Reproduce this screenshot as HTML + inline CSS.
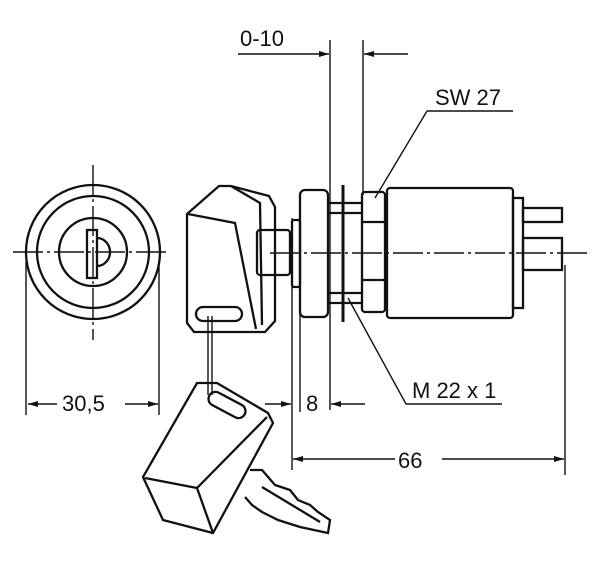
<!DOCTYPE html>
<html><head><meta charset="utf-8"><style>
html,body{margin:0;padding:0;background:#fff}
svg{display:block}
text{font-family:"Liberation Sans",sans-serif;font-size:22px;fill:#111}
</style></head><body>
<svg width="600" height="561" viewBox="0 0 600 561" xmlns="http://www.w3.org/2000/svg">
<defs>
<marker id="a" viewBox="0 0 10 6" refX="10" refY="3" markerWidth="11" markerHeight="6" orient="auto" markerUnits="userSpaceOnUse"><path d="M0,0 L10,3 L0,6 z" fill="#111"/></marker>
</defs>
<g fill="none" stroke="#111" stroke-width="2.3">
<circle cx="93" cy="252" r="67"/>
<circle cx="93" cy="252" r="56"/>
<circle cx="93" cy="252" r="34"/>
<rect x="87" y="230" width="10" height="48"/>
<path d="M97,238 A13,14 0 0 1 97,266"/>
<g stroke-width="1.4">
<path d="M13,252 H170" stroke-dasharray="30,4,3,4"/>
<path d="M93,165 V340" stroke-dasharray="30,4,3,4"/>
<path d="M26,262 V415 M159,262 V415"/>
<path d="M57,404 H28" marker-end="url(#a)"/>
<path d="M125,404 H158" marker-end="url(#a)"/>
</g>
<g stroke-width="1.4">
<path d="M330,40 V410 M363,40 V195 M292,218 V470 M300,290 V412 M565,265 V475"/>
<path d="M238,54 H329" marker-end="url(#a)"/>
<path d="M408,54 H364" marker-end="url(#a)"/>
<path d="M265,404 H291" marker-end="url(#a)"/>
<path d="M365,404 H331" marker-end="url(#a)"/>
<path d="M395,459 H293" marker-end="url(#a)"/>
<path d="M442,459 H564" marker-end="url(#a)"/>
<path d="M427,111 H513 M427,111 L375,198"/>
<path d="M406,404 H502 M406,404 L348,298"/>
<path d="M270,253 H587" stroke-dasharray="30,4,3,4"/>
</g>
<rect x="257" y="230" width="33" height="45" rx="3"/>
<rect x="292" y="220" width="8" height="67" rx="2"/>
<rect x="300" y="190" width="28" height="127" rx="5"/>
<path d="M328,203 H362 M328,213 H362 M328,293 H362 M328,303 H362"/>
<path d="M343,185 V322" stroke-width="3"/>
<rect x="362" y="192" width="23" height="120" rx="3"/>
<path d="M362,222 H385 M362,280 H385"/>
<rect x="387" y="188" width="126" height="130" rx="3"/>
<rect x="513" y="198" width="10" height="110"/>
<rect x="523" y="208" width="39" height="14"/>
<rect x="523" y="238" width="39" height="32"/>
<path d="M187,214 L219,186 L231,186 L269,196 L275,207 L275,321 L265,332 L194,332 L187,323 Z"/>
<path d="M188,214 L235,223 L256,329 M231,186 L260,203 L262,325"/>
<rect x="196" y="307" width="46" height="14" rx="7"/>
<path d="M208,316 V395 M212,316 V395" stroke-width="1.4"/>
<path d="M197,383 L217,383 L268,413 L273,423 L213,533 L163,520 L143,477 Z"/>
<path d="M145,478 L197,488 L267,417 M197,488 L213,533"/>
<rect x="207" y="398" width="40" height="14" rx="7" transform="rotate(28 227 405)"/>
<path d="M250,470 L262,470 L275,485 L290,490 L298,500 L310,505 L318,512 L330,520 L328,533 L300,527 L278,520 L262,512 L252,505 L245,497"/>
<path d="M262,487 L320,522"/>
</g>
<text x="240" y="46">0-10</text>
<text x="435" y="105">SW 27</text>
<text x="412" y="398">M 22 x 1</text>
<text x="62" y="411">30,5</text>
<text x="306" y="411">8</text>
<text x="398" y="468">66</text>
</svg>
</body></html>
